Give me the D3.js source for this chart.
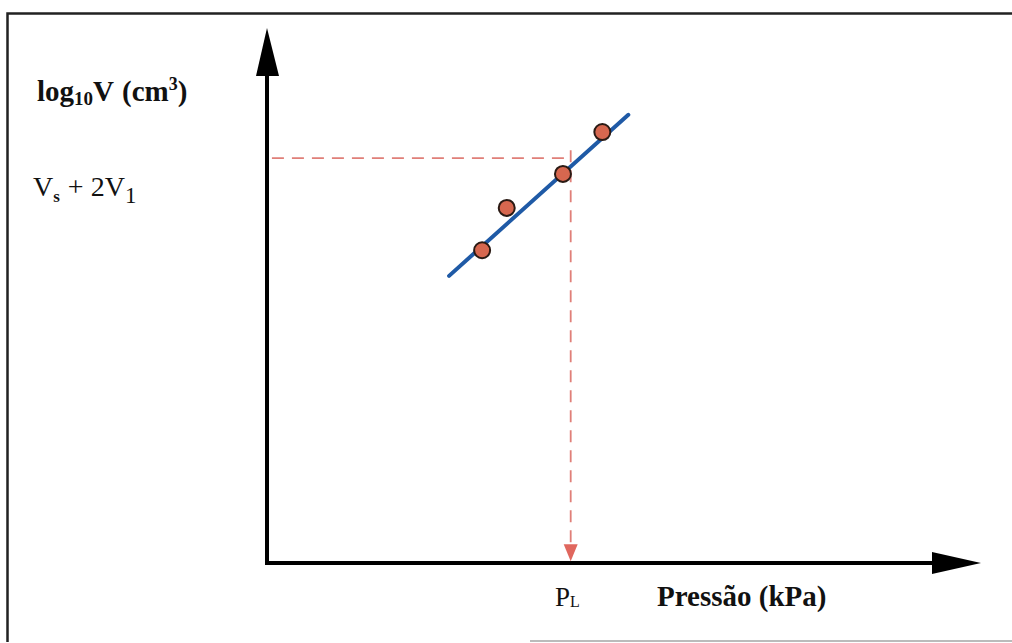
<!DOCTYPE html>
<html>
<head>
<meta charset="utf-8">
<script src="https://cdn.jsdelivr.net/npm/d3@7"></script>
<style>
  body { margin: 0; background: #fff; }
</style>
</head>
<body>
<script>
var W = 1012, H = 643;
var serif = "'Liberation Serif'";

// ensaio: pressão (eixo x) x log10V (eixo y), unidades arbitrárias
var pressao = [30.6, 34.1, 42.1, 47.7];
var logV = [59.8, 67.9, 74.4, 82.4];
var retaX = [25.9, 51.4];
var retaY = [54.9, 85.7];
var PL = 43.2;        // pressão limite
var VsMais2V1 = 77.4; // nível Vs + 2V1

var svg = d3.select("body").append("svg")
  .attr("width", W)
  .attr("height", H);

var x = d3.scaleLinear().domain([0, 100]).range([267, 970]);
var y = d3.scaleLinear().domain([0, 100]).range([563, 40]);

// moldura
svg.append("path")
  .attr("d", "M7.5,642 L7.5,13.5 L1012,13.5")
  .attr("fill", "none").attr("stroke", "#222").attr("stroke-width", 2.5);
svg.append("line")
  .attr("x1", 530).attr("x2", 1012).attr("y1", 641).attr("y2", 641)
  .attr("stroke", "#bbb").attr("stroke-width", 2);

// eixos
svg.append("line")
  .attr("x1", x(0)).attr("y1", y(0) + 2)
  .attr("x2", x(0)).attr("y2", 70)
  .attr("stroke", "#000").attr("stroke-width", 4);
svg.append("path")
  .attr("d", "M" + x(0) + ",28 L" + (x(0) - 11) + ",76 L" + (x(0) + 12) + ",76 Z")
  .attr("fill", "#000");
svg.append("line")
  .attr("x1", x(0) - 2).attr("y1", y(0))
  .attr("x2", 935).attr("y2", y(0))
  .attr("stroke", "#000").attr("stroke-width", 4);
svg.append("path")
  .attr("d", "M981," + y(0) + " L932," + (y(0) - 11) + " L932," + (y(0) + 11) + " Z")
  .attr("fill", "#000");

// linhas tracejadas até PL
var dashCol = "#e07f78";
svg.append("line")
  .attr("x1", x(0.7)).attr("y1", y(VsMais2V1))
  .attr("x2", x(PL)).attr("y2", y(VsMais2V1))
  .attr("stroke", dashCol).attr("stroke-width", 1.8)
  .attr("stroke-dasharray", "12,8");
svg.append("line")
  .attr("x1", x(PL)).attr("y1", y(VsMais2V1) - 8)
  .attr("x2", x(PL)).attr("y2", y(3))
  .attr("stroke", dashCol).attr("stroke-width", 1.8)
  .attr("stroke-dasharray", "12,8");
svg.append("path")
  .attr("d", "M" + (x(PL) - 7) + "," + (y(3) - 3) + " L" + (x(PL) + 7) + "," + (y(3) - 3) + " L" + x(PL) + "," + (y(3) + 14) + " Z")
  .attr("fill", "#e0675e");

// reta ajustada
svg.append("line")
  .attr("x1", x(retaX[0])).attr("y1", y(retaY[0]))
  .attr("x2", x(retaX[1])).attr("y2", y(retaY[1]))
  .attr("stroke", "#1f5aa6").attr("stroke-width", 4)
  .attr("stroke-linecap", "round");

// pontos
var pontos = pressao.map(function(p, i) { return {p: p, v: logV[i]}; });
svg.selectAll("circle.ponto")
  .data(pontos)
  .enter()
  .append("circle")
  .attr("class", "ponto")
  .attr("cx", function(d) { return x(d.p); })
  .attr("cy", function(d) { return y(d.v); })
  .attr("r", 8)
  .attr("fill", "#d6674f")
  .attr("stroke", "#2a1a14")
  .attr("stroke-width", 2);

// textos
var t1 = svg.append("text").attr("x", 37).attr("y", 101)
  .style("font-family", serif)
  .attr("font-size", 29).attr("font-weight", "bold").attr("fill", "#111");
t1.append("tspan").text("log");
t1.append("tspan").attr("font-size", 19).attr("dy", 4).text("10");
t1.append("tspan").attr("dy", -4).text("V");
t1.append("tspan").attr("dx", 8).text("(cm");
t1.append("tspan").attr("font-size", 18).attr("dy", -11).text("3");
t1.append("tspan").attr("dy", 11).text(")");

var t2 = svg.append("text").attr("x", 33).attr("y", 196)
  .style("font-family", serif)
  .attr("font-size", 28).attr("fill", "#111");
t2.append("tspan").text("V");
t2.append("tspan").attr("font-size", 17).attr("font-weight", "bold").attr("dy", 6).text("s");
t2.append("tspan").attr("dy", -6).attr("dx", 8).text("+ 2V");
t2.append("tspan").attr("font-size", 23).attr("dy", 7).text("1");

var t3 = svg.append("text").attr("x", 555).attr("y", 606)
  .style("font-family", serif)
  .attr("font-size", 27).attr("fill", "#111");
t3.append("tspan").text("P");
t3.append("tspan").attr("font-size", 16).attr("dy", 1).text("L");

svg.append("text").attr("x", 657).attr("y", 606)
  .style("font-family", serif)
  .attr("font-size", 29).attr("font-weight", "bold").attr("fill", "#111")
  .text("Pressão (kPa)");
</script>
</body>
</html>
